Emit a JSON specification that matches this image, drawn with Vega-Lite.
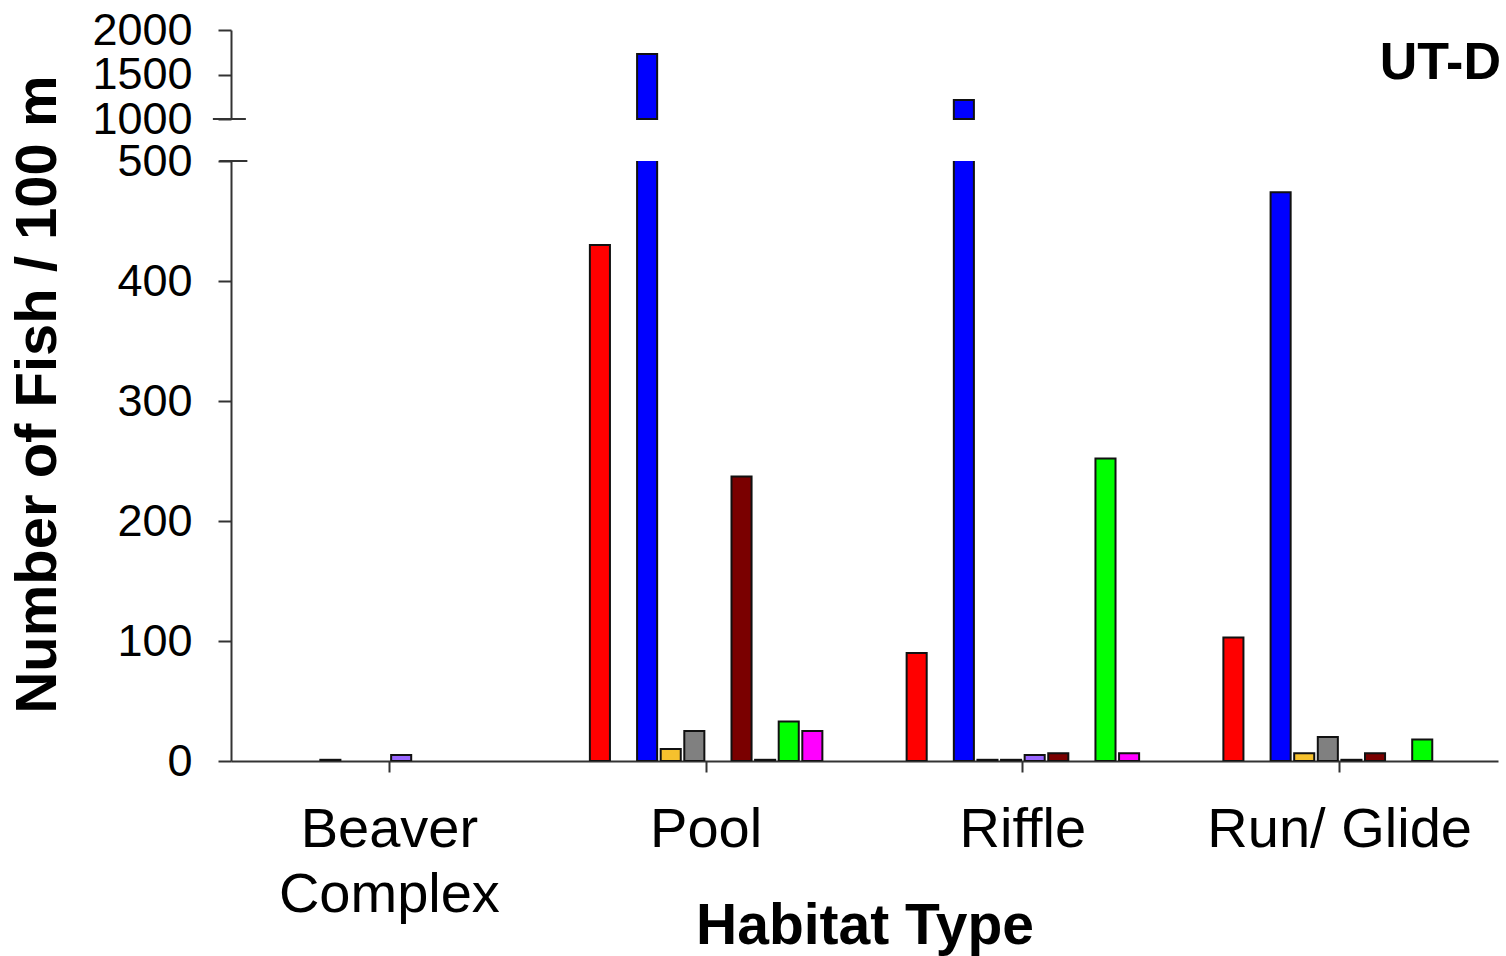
{
  "$schema": "https://vega.github.io/schema/vega-lite/v6.json",
  "background": "white",
  "padding": {"left": 8, "top": 8, "right": 8, "bottom": 5},
  "config": {
    "font": "Liberation Sans",
    "view": {"stroke": null},
    "axis": {"grid": false, "domainColor": "#333", "tickColor": "#333", "domainWidth": 2, "tickWidth": 2, "labelColor": "#000", "titleColor": "#000", "labelLimit": 0, "labelOverlap": false, "labelFlush": false}
  },
  "bounds": "flush",
  "spacing": 42,
  "datasets": {
    "fish": [
      {"habitat": "Beaver Complex", "species": "Species 3", "count": 1},
      {"habitat": "Beaver Complex", "species": "Species 6", "count": 5},
      {"habitat": "Pool", "species": "Species 1", "count": 430},
      {"habitat": "Pool", "species": "Species 3", "count": 1730},
      {"habitat": "Pool", "species": "Species 4", "count": 10},
      {"habitat": "Pool", "species": "Species 5", "count": 25},
      {"habitat": "Pool", "species": "Species 7", "count": 237},
      {"habitat": "Pool", "species": "Species 8", "count": 1},
      {"habitat": "Pool", "species": "Species 9", "count": 33},
      {"habitat": "Pool", "species": "Species 10", "count": 25},
      {"habitat": "Riffle", "species": "Species 1", "count": 90},
      {"habitat": "Riffle", "species": "Species 3", "count": 1213},
      {"habitat": "Riffle", "species": "Species 4", "count": 1},
      {"habitat": "Riffle", "species": "Species 5", "count": 1},
      {"habitat": "Riffle", "species": "Species 6", "count": 5},
      {"habitat": "Riffle", "species": "Species 7", "count": 6.5},
      {"habitat": "Riffle", "species": "Species 9", "count": 252},
      {"habitat": "Riffle", "species": "Species 10", "count": 6.5},
      {"habitat": "Run/ Glide", "species": "Species 1", "count": 103},
      {"habitat": "Run/ Glide", "species": "Species 3", "count": 474},
      {"habitat": "Run/ Glide", "species": "Species 4", "count": 6.5},
      {"habitat": "Run/ Glide", "species": "Species 5", "count": 20},
      {"habitat": "Run/ Glide", "species": "Species 6", "count": 1},
      {"habitat": "Run/ Glide", "species": "Species 7", "count": 6.5},
      {"habitat": "Run/ Glide", "species": "Species 9", "count": 18}
    ],
    "label": [{"habitat": "Run/ Glide", "count": 1630, "text": "UT-D"}],
    "breakTop": [{"habitat": "Beaver Complex", "count": 1000}],
    "breakBottom": [{"habitat": "Beaver Complex", "count": 500}]
  },
  "vconcat": [
    {
      "width": 1267,
      "height": 89,
      "layer": [
        {
          "data": {"name": "fish"},
          "transform": [{"filter": "datum.count > 1000"}],
          "mark": {"type": "bar", "stroke": "#111", "strokeWidth": 2},
          "encoding": {
            "x": {"field": "habitat", "type": "nominal", "sort": null, "scale": {"domain": ["Beaver Complex", "Pool", "Riffle", "Run/ Glide"], "paddingInner": 0, "paddingOuter": 0}, "axis": null},
            "xOffset": {"field": "species", "type": "nominal", "scale": {"domain": ["pad a", "Species 1", "Species 2", "Species 3", "Species 4", "Species 5", "Species 6", "Species 7", "Species 8", "Species 9", "Species 10", "pad b"], "paddingInner": 0.15, "paddingOuter": 0.785}},
            "y": {"field": "count", "type": "quantitative", "scale": {"domain": [1000, 2000], "nice": false, "zero": false},
              "axis": {"values": [1000, 1500, 2000], "format": "d", "title": null, "labelFontSize": 45, "labelPadding": 26, "tickSize": 13}},
            "y2": {"datum": 1000},
            "color": {"field": "species", "type": "nominal", "legend": null,
              "scale": {"domain": ["Species 1", "Species 2", "Species 3", "Species 4", "Species 5", "Species 6", "Species 7", "Species 8", "Species 9", "Species 10"],
                "range": ["#FF0000", "#00CCFF", "#0000FF", "#F6C12D", "#808080", "#9966FF", "#7A0000", "#000000", "#00FF00", "#FF00FF"]}}
          }
        },
        {
          "data": {"name": "breakTop"},
          "mark": {"type": "tick", "color": "#333", "thickness": 2, "size": 33, "xOffset": -160, "opacity": 1},
          "encoding": {
            "x": {"field": "habitat", "type": "nominal"},
            "y": {"field": "count", "type": "quantitative"}
          }
        },
        {
          "data": {"name": "label"},
          "mark": {"type": "text", "align": "right", "baseline": "middle", "fontSize": 52, "fontWeight": "bold", "dx": 3, "font": "Liberation Sans"},
          "encoding": {
            "x": {"field": "habitat", "type": "nominal", "bandPosition": 1},
            "y": {"field": "count", "type": "quantitative"},
            "text": {"field": "text"}
          }
        }
      ]
    },
    {
      "width": 1267,
      "height": 600,
      "layer": [
        {
          "data": {"name": "fish"},
          "mark": {"type": "bar", "stroke": "#111", "strokeWidth": 2, "clip": true},
          "encoding": {
            "x": {"field": "habitat", "type": "nominal", "sort": null, "scale": {"domain": ["Beaver Complex", "Pool", "Riffle", "Run/ Glide"], "paddingInner": 0, "paddingOuter": 0},
              "axis": {"title": "Habitat Type", "labelAngle": 0, "labelFontSize": 56, "labelPadding": 30, "tickSize": 11, "labelLineHeight": 65,
                "labelExpr": "datum.label == 'Beaver Complex' ? ['Beaver', 'Complex'] : datum.label",
                "titleFontSize": 57, "titleFontWeight": "bold", "titlePadding": -24}},
            "xOffset": {"field": "species", "type": "nominal", "scale": {"domain": ["pad a", "Species 1", "Species 2", "Species 3", "Species 4", "Species 5", "Species 6", "Species 7", "Species 8", "Species 9", "Species 10", "pad b"], "paddingInner": 0.15, "paddingOuter": 0.785}},
            "y": {"field": "count", "type": "quantitative", "scale": {"domain": [0, 500], "nice": false},
              "axis": {"values": [0, 100, 200, 300, 400, 500], "format": "d", "title": "Number of Fish / 100 m", "labelFontSize": 45, "labelPadding": 26, "tickSize": 13,
                "titleFontSize": 58, "titleFontWeight": "bold", "titleAngle": -90, "titleAlign": "center", "titleBaseline": "top", "titleX": -222, "titleY": 233}},
            "color": {"field": "species", "type": "nominal", "legend": null,
              "scale": {"domain": ["Species 1", "Species 2", "Species 3", "Species 4", "Species 5", "Species 6", "Species 7", "Species 8", "Species 9", "Species 10"],
                "range": ["#FF0000", "#00CCFF", "#0000FF", "#F6C12D", "#808080", "#9966FF", "#7A0000", "#000000", "#00FF00", "#FF00FF"]}}
          }
        },
        {
          "data": {"name": "breakBottom"},
          "mark": {"type": "tick", "color": "#333", "thickness": 2, "size": 28, "xOffset": -156, "opacity": 1},
          "encoding": {
            "x": {"field": "habitat", "type": "nominal"},
            "y": {"field": "count", "type": "quantitative"}
          }
        }
      ]
    }
  ]
}
